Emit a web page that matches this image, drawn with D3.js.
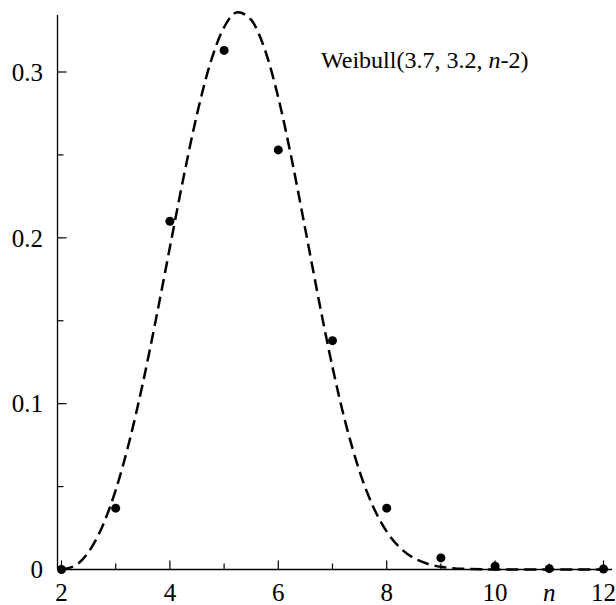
<!DOCTYPE html>
<html>
<head>
<meta charset="utf-8">
<script src="https://cdn.jsdelivr.net/npm/d3@7"></script>
<style>
    body { margin: 0; background: #fff; }
</style>
</head>
<body>
<svg id="chart" width="616" height="605"></svg>
<script>
// observed frequencies
const nValues = [2, 3, 4, 5, 6, 7, 8, 9, 10, 11, 12];
const observed = [0.0, 0.037, 0.21, 0.313, 0.253, 0.138, 0.037, 0.007, 0.002, 0.0005, 0.0003];

// dashed fitted curve, read along n
const curveN = [2, 2.25, 2.5, 2.75, 3, 3.25, 3.5, 3.75, 4, 4.25, 4.5, 4.75, 5, 5.25, 5.5, 5.75,
    6, 6.25, 6.5, 6.75, 7, 7.25, 7.5, 7.75, 8, 8.25, 8.5, 8.75, 9, 9.5, 10, 11, 12];
const curveP = [0, 0.0023, 0.0106, 0.0257, 0.0479, 0.077, 0.1122, 0.1521, 0.1943, 0.2362, 0.2745,
    0.3058, 0.327, 0.336, 0.3314, 0.3137, 0.2845, 0.247, 0.2049, 0.1621, 0.122, 0.0872, 0.0591,
    0.0379, 0.0229, 0.013, 0.0069, 0.0035, 0.0016, 0.0003, 0.00004, 0, 0];

const xMajor = [2, 4, 6, 8, 10, 12];
const xMinor = [3, 5, 7, 9, 11];
const yMajor = [0, 0.1, 0.2, 0.3];
const yMinor = [0.05, 0.15, 0.25];
const fitLabel = "Weibull(3.7, 3.2, ";

const fontFam = "'Liberation Serif', Tinos, 'Times New Roman', Times, 'DejaVu Serif', serif";
const svg = d3.select('#chart');
const x = d3.scaleLinear().domain([2, 12]).range([61.5, 603.5]);
const y = d3.scaleLinear().domain([0, 0.3]).range([569.5, 72]);
const axisX = 57.5;
const axisY = 569.5;

// axes lines
svg.append('line')
    .attr('x1', axisX).attr('x2', axisX)
    .attr('y1', 15).attr('y2', axisY)
    .attr('stroke', 'black').attr('stroke-width', 1.3);
svg.append('line')
    .attr('x1', axisX).attr('x2', 612)
    .attr('y1', axisY).attr('y2', axisY)
    .attr('stroke', 'black').attr('stroke-width', 1.3);

// y ticks (inside)
svg.selectAll('.ytick')
    .data(yMajor.map(d => ({v: d, len: 9})).concat(yMinor.map(d => ({v: d, len: 6}))))
    .enter().append('line')
    .attr('x1', axisX).attr('x2', d => axisX + d.len)
    .attr('y1', d => y(d.v)).attr('y2', d => y(d.v))
    .attr('stroke', 'black').attr('stroke-width', 1.2);

svg.selectAll('.ylabel')
    .data(yMajor)
    .enter().append('text')
    .attr('x', 43)
    .attr('y', d => y(d))
    .attr('dy', '0.35em')
    .attr('text-anchor', 'end')
    .attr('font-family', fontFam)
    .attr('font-size', 25)
    .text(d => d === 0 ? '0' : d3.format('.1f')(d));

// x ticks (inside)
svg.selectAll('.xtick')
    .data(xMajor.map(d => ({v: d, len: 9})).concat(xMinor.map(d => ({v: d, len: 6}))))
    .enter().append('line')
    .attr('x1', d => x(d.v)).attr('x2', d => x(d.v))
    .attr('y1', axisY).attr('y2', d => axisY - d.len)
    .attr('stroke', 'black').attr('stroke-width', 1.2);

svg.selectAll('.xlabel')
    .data(xMajor)
    .enter().append('text')
    .attr('x', d => x(d))
    .attr('y', 601)
    .attr('text-anchor', 'middle')
    .attr('font-family', fontFam)
    .attr('font-size', 25)
    .text(d => d);

svg.append('text')
    .attr('x', x(11))
    .attr('y', 601)
    .attr('text-anchor', 'middle')
    .attr('font-family', fontFam)
    .attr('font-size', 25)
    .attr('font-style', 'italic')
    .text('n');

// fitted curve
const line = d3.line()
    .x(d => x(d[0]))
    .y(d => y(d[1]))
    .curve(d3.curveMonotoneX);

svg.append('path')
    .datum(curveN.map((n, i) => [n, curveP[i]]))
    .attr('d', line)
    .attr('fill', 'none')
    .attr('stroke', 'black')
    .attr('stroke-width', 2.5)
    .attr('stroke-dasharray', '12,6');

// points
svg.selectAll('.pt')
    .data(nValues)
    .enter().append('circle')
    .attr('cx', d => x(d))
    .attr('cy', (d, i) => y(observed[i]))
    .attr('r', 4.5)
    .attr('fill', 'black');

// label
const lbl = svg.append('text')
    .attr('x', 321)
    .attr('y', 68)
    .attr('font-family', fontFam)
    .attr('font-size', 24);
lbl.append('tspan').text(fitLabel);
lbl.append('tspan').attr('font-style', 'italic').text('n');
lbl.append('tspan').text('-2)');
</script>
</body>
</html>
